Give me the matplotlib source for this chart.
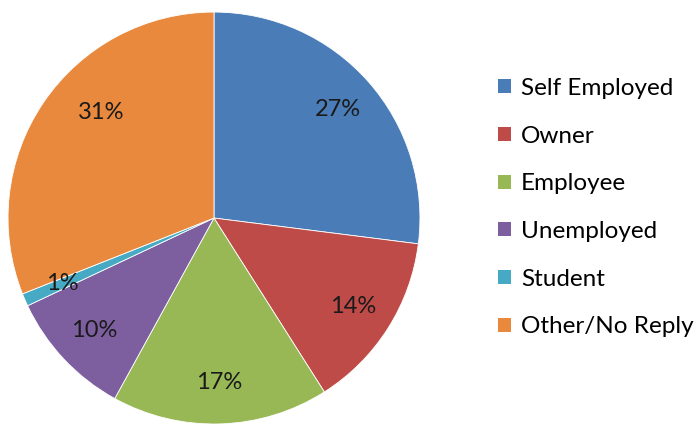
import numpy as np
import matplotlib.pyplot as plt
from matplotlib.patches import Patch

# dados do gráfico
labels = ['Self Employed', 'Owner', 'Employee', 'Unemployed', 'Student', 'Other/No Reply']
values = [27, 14, 17, 10, 1, 31]
colors = ['#4A7DB8', '#BE4B48', '#98B855', '#7D5FA0', '#46AAC5', '#E8893D']

plt.rcParams['font.family'] = ['Lato', 'DejaVu Sans']

fig = plt.figure(figsize=(6.95, 4.42), dpi=100)
ax = fig.add_axes([0.0115, 0.0407, 0.5928, 0.932])

# pizza começando no topo, sentido horário
wedges, texts, autotexts = ax.pie(
    values, colors=colors, startangle=90, counterclock=False,
    autopct='%d%%', pctdistance=0.8, radius=1.0,
    wedgeprops={'edgecolor': 'white', 'linewidth': 0.6},
    textprops={'fontsize': 17, 'color': '#1a1a1a'})

# rótulo do último setor fica um pouco mais para dentro (como no original)
ang = np.deg2rad(137)
autotexts[-1].set_position((0.75 * np.cos(ang), 0.75 * np.sin(ang)))

ax.set_xlim(-1, 1)
ax.set_ylim(-1, 1)
ax.set_aspect('equal')

# legenda à direita
handles = [Patch(facecolor=c, edgecolor='none') for c in colors]
fig.legend(handles, labels, loc='upper left', bbox_to_anchor=(0.703, 0.846),
           frameon=False, fontsize=17.5, handlelength=0.52, handleheight=0.52,
           handletextpad=0.42, labelspacing=1.1, borderaxespad=0)

fig.savefig('out.png', dpi=100)
